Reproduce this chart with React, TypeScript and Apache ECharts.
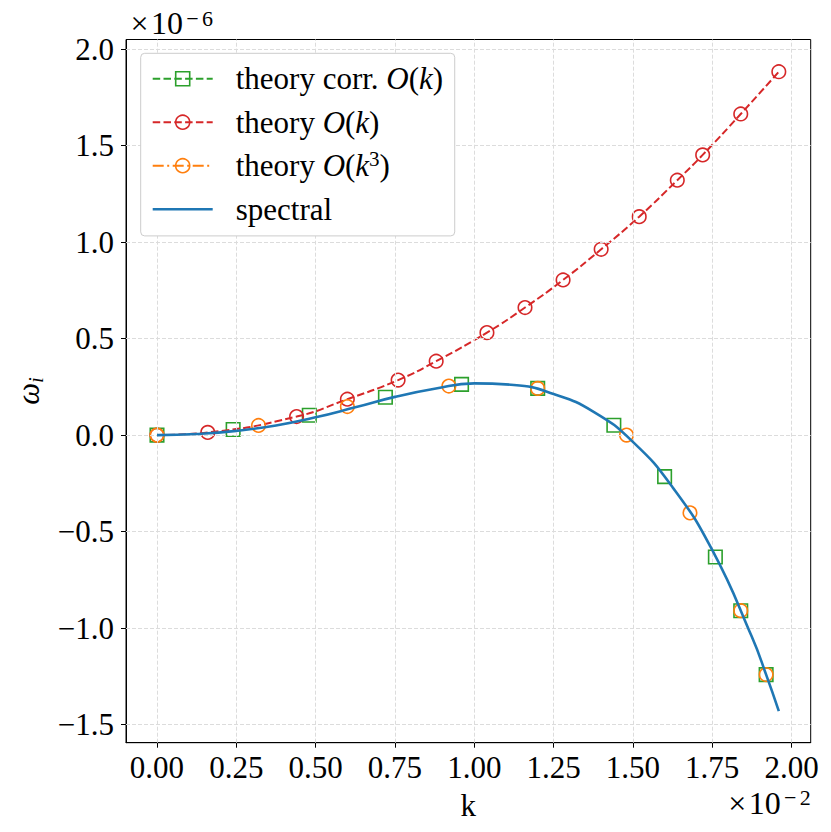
import React, { useEffect, useRef } from 'react';
import * as echarts from 'echarts';

const FONT = 'Liberation Serif';

// tick labels (axis units: k ×10^-2, ω_i ×10^-6)
const xTicks = [0, 0.25, 0.5, 0.75, 1.0, 1.25, 1.5, 1.75, 2.0];
const yTicks = [-1.5, -1.0, -0.5, 0.0, 0.5, 1.0, 1.5, 2.0];

// series names
const seriesNames = ['theory corr. O(k)', 'theory O(k)', 'theory O(k^3)', 'spectral'];

// theory corr. O(k) (green squares)
const corrK = [0, 0.24, 0.48, 0.72, 0.96, 1.2, 1.44, 1.6, 1.76, 1.84, 1.92];
const corrW = [0, 0.029, 0.103, 0.196, 0.263, 0.242, 0.051, -0.215, -0.632, -0.91, -1.241];

// theory O(k) (red circles)
const ok1K = [0, 0.16, 0.44, 0.6, 0.76, 0.88, 1.04, 1.16, 1.28, 1.4, 1.52, 1.64, 1.72, 1.84, 1.96];
const ok1W = [0, 0.014, 0.096, 0.186, 0.285, 0.383, 0.531, 0.661, 0.804, 0.963, 1.132, 1.321, 1.452, 1.664, 1.883];

// theory O(k^3) (orange circles)
const ok3K = [0, 0.32, 0.6, 0.92, 1.2, 1.48, 1.68, 1.84, 1.92];
const ok3W = [0, 0.05, 0.148, 0.254, 0.242, 0.0, -0.403, -0.91, -1.241];

// spectral (blue solid)
const specK = [0, 0.125, 0.25, 0.375, 0.5, 0.625, 0.75, 0.875, 1.0, 1.125, 1.25, 1.375, 1.5, 1.625, 1.75, 1.875, 1.92, 1.96];
const specW = [0, 0.006, 0.022, 0.05, 0.092, 0.144, 0.198, 0.24, 0.268, 0.26, 0.213, 0.122, -0.035, -0.27, -0.595, -1.045, -1.241, -1.43];

// axis offset exponents
const xExponent = '\u22122';
const yExponent = '\u22126';

const GREEN = '#2ca02c';
const RED = '#d62728';
const ORANGE = '#ff7f0e';
const BLUE = '#1f77b4';

function pairs(xs: number[], ys: number[]) {
  return xs.map((x, i) => [x, ys[i]]);
}

const legendText: Record<string, string> = {
  'theory corr. O(k)': '{sp| }{n|theory corr. }{it|O}{n|(}{it|k}{n|)}',
  'theory O(k)': '{sp| }{n|theory }{it|O}{n|(}{it|k}{n|)}',
  'theory O(k^3)': '{sp| }{n|theory }{it|O}{n|(}{it|k}{sup|3}{n|)}',
  spectral: '{sp| }{n|spectral}',
};

function offsetText(exp: string) {
  const minus = exp.charAt(0);
  const digits = exp.slice(1);
  return `{x|×}{a|10}{m|${minus}}{b|${digits}}`;
}

const offsetRich = {
  x: { fontFamily: FONT, fontSize: 32, lineHeight: 32, width: 23, align: 'center', fill: '#000' },
  a: { fontFamily: FONT, fontSize: 32, lineHeight: 32, fill: '#000' },
  m: { fontFamily: FONT, fontSize: 22, lineHeight: 12, width: 19, align: 'center', verticalAlign: 'top', fill: '#000' },
  b: { fontFamily: FONT, fontSize: 22, lineHeight: 12, verticalAlign: 'top', fill: '#000' },
};

export default function App() {
  const ref = useRef<HTMLDivElement>(null);
  useEffect(() => {
    const chart = echarts.init(ref.current!, null, { renderer: 'svg' });
    const dash = [7.5, 3.3];
    const dashDot = [11, 3.5, 2, 3.5];
    const markerStyle = (c: string) => ({ color: 'transparent', borderColor: c, borderWidth: 1.6 });
    const option: any = {
      animation: false,
      backgroundColor: '#fff',
      grid: {
        left: 126,
        right: 20.3,
        top: 39.5,
        bottom: 89.3,
        containLabel: false,
        outerBoundsMode: 'none',
        show: true,
        borderColor: '#000',
        borderWidth: 1,
        backgroundColor: 'transparent',
      },
      xAxis: {
        type: 'value',
        min: -0.0977,
        max: 2.0605,
        name: 'k',
        nameLocation: 'middle',
        nameGap: 43.3,
        nameTextStyle: { fontFamily: FONT, fontSize: 31, color: '#000', lineHeight: 34 },
        axisLine: { show: true, onZero: false, lineStyle: { color: '#000', width: 1 } },
        axisTick: { show: true, inside: false, length: 5, customValues: xTicks, lineStyle: { color: '#000', width: 1 } },
        axisLabel: {
          customValues: xTicks,
          formatter: (v: number) => v.toFixed(2),
          fontFamily: FONT,
          fontSize: 31,
          color: '#000',
          margin: 9,
          lineHeight: 32,
        },
        splitLine: { show: false },
      },
      yAxis: {
        type: 'value',
        min: -1.594,
        max: 2.05,
        axisLine: { show: true, onZero: false, lineStyle: { color: '#000', width: 1 } },
        axisTick: { show: true, inside: false, length: 5, customValues: yTicks, lineStyle: { color: '#000', width: 1 } },
        axisLabel: {
          customValues: yTicks,
          formatter: (v: number) => (v < 0 ? '\u2212' : '') + Math.abs(v).toFixed(1),
          fontFamily: FONT,
          fontSize: 31,
          color: '#000',
          margin: 12,
        },
        splitLine: { show: false },
      },
      legend: {
        orient: 'vertical',
        left: 140.7,
        top: 53.3,
        z: 10,
        padding: [8.4, 11.6, 9.7, 11],
        itemGap: 9.5,
        itemWidth: 60,
        itemHeight: 17.5,
        backgroundColor: '#ffffff',
        borderColor: '#cccccc',
        borderWidth: 1,
        borderRadius: 4,
        selectedMode: false,
        data: [
          { name: seriesNames[0], itemStyle: markerStyle(GREEN), lineStyle: { color: GREEN, width: 2, type: dash, opacity: 1 } },
          { name: seriesNames[1], itemStyle: markerStyle(RED), lineStyle: { color: RED, width: 2, type: dash, opacity: 1 } },
          { name: seriesNames[2], itemStyle: markerStyle(ORANGE), lineStyle: { color: ORANGE, width: 2, type: dashDot, opacity: 1 } },
          { name: seriesNames[3], icon: 'path://M0,0h60v2.6h-60z', itemStyle: { color: BLUE, borderWidth: 0 } },
        ],
        formatter: (name: string) => legendText[name] || name,
        textStyle: {
          fontFamily: FONT,
          fontSize: 31,
          color: '#000',
          lineHeight: 34,
          rich: {
            sp: { width: 18, fontSize: 31, lineHeight: 34 },
            n: { fontFamily: FONT, fontSize: 31, color: '#000', lineHeight: 34 },
            it: { fontFamily: FONT, fontSize: 31, fontStyle: 'italic', color: '#000', lineHeight: 34 },
            sup: { fontFamily: FONT, fontSize: 21, color: '#000', lineHeight: 18, verticalAlign: 'top' },
          },
        },
      },
      graphic: [
        {
          type: 'text',
          x: 128,
          y: 23.3,
          silent: true,
          style: {
            text: offsetText(yExponent),
            align: 'left',
            verticalAlign: 'middle',
            rich: offsetRich,
          },
        },
        {
          type: 'text',
          x: 810.7,
          y: 802.5,
          silent: true,
          style: {
            text: offsetText(xExponent),
            align: 'right',
            verticalAlign: 'middle',
            rich: offsetRich,
          },
        },
        {
          type: 'text',
          x: 28,
          y: 391,
          rotation: Math.PI / 2,
          silent: true,
          style: {
            text: '{w|ω}{s|i}',
            align: 'center',
            verticalAlign: 'middle',
            rich: {
              w: { fontFamily: FONT, fontSize: 31, fontStyle: 'italic', lineHeight: 36, fill: '#000' },
              s: { fontFamily: FONT, fontSize: 21, fontStyle: 'italic', lineHeight: 18, verticalAlign: 'bottom', fill: '#000' },
            },
          },
        },
      ],
      series: [
        {
          type: 'line',
          name: '_grid',
          data: [],
          z: 1,
          silent: true,
          symbol: 'none',
          markLine: {
            silent: true,
            symbol: ['none', 'none'],
            label: { show: false },
            emphasis: { disabled: true },
            lineStyle: { color: '#dcdcdc', width: 1, type: [4, 2] },
            data: [...xTicks.map((v) => ({ xAxis: v })), ...yTicks.map((v) => ({ yAxis: v }))],
          },
        },
        {
          type: 'line',
          name: seriesNames[0],
          data: pairs(corrK, corrW),
          smooth: true,
          z: 2,
          silent: true,
          symbol: 'rect',
          symbolSize: 13.5,
          showSymbol: true,
          showAllSymbol: true,
          // its dashed line lies under the spectral curve in the reference
          lineStyle: { color: GREEN, width: 2, type: dash, opacity: 0 },
          itemStyle: markerStyle(GREEN),
        },
        {
          type: 'line',
          name: seriesNames[1],
          data: pairs(ok1K, ok1W),
          smooth: true,
          z: 3,
          silent: true,
          symbol: 'circle',
          symbolSize: 13.5,
          showSymbol: true,
          showAllSymbol: true,
          lineStyle: { color: RED, width: 2, type: dash },
          itemStyle: markerStyle(RED),
        },
        {
          type: 'line',
          name: seriesNames[2],
          data: pairs(ok3K, ok3W),
          smooth: true,
          z: 4,
          silent: true,
          symbol: 'circle',
          symbolSize: 13.5,
          showSymbol: true,
          showAllSymbol: true,
          // its dash-dot line lies under the spectral curve in the reference
          lineStyle: { color: ORANGE, width: 2, type: dashDot, opacity: 0 },
          itemStyle: markerStyle(ORANGE),
        },
        {
          type: 'line',
          name: seriesNames[3],
          data: pairs(specK, specW),
          smooth: true,
          z: 5,
          silent: true,
          symbol: 'none',
          lineStyle: { color: BLUE, width: 2.6, type: 'solid' },
          itemStyle: { color: BLUE },
        },
      ],
    };
    chart.setOption(option);
    return () => chart.dispose();
  }, []);
  return (
    <div
      ref={ref}
      style={{ position: 'fixed', left: 0, top: 0, width: 831, height: 832, background: '#fff' }}
    />
  );
}
